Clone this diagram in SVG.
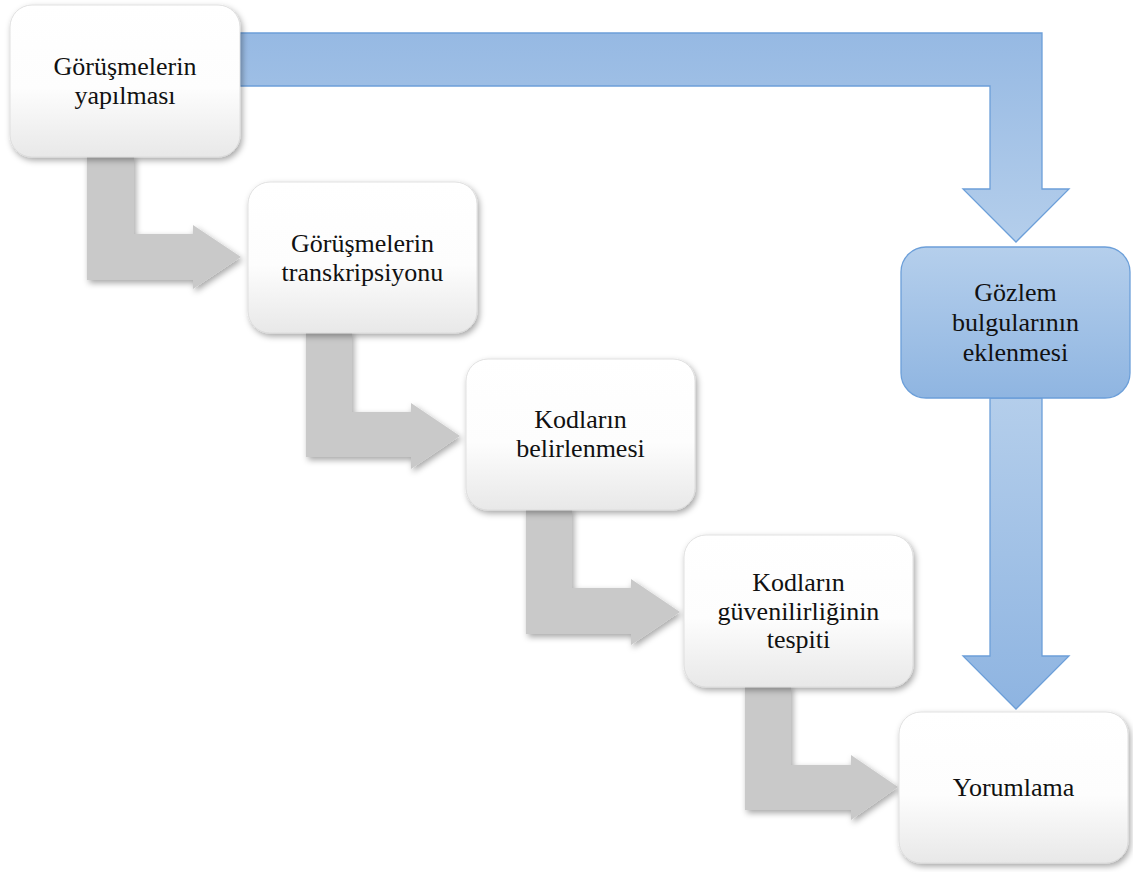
<svg xmlns="http://www.w3.org/2000/svg" width="1133" height="872" viewBox="0 0 1133 872">
<defs>
<style>
.box{fill:url(#wg);stroke:#d9d9d9;stroke-width:0.8;filter:url(#sh)}
.gar{fill:#c9c9c9;filter:url(#sh)}
.lbl{font-family:"Liberation Serif","Times New Roman",serif;font-size:26px;fill:#111;text-anchor:middle}
.blue{stroke:#6c9fd9;stroke-width:1.3}
</style>
<linearGradient id="wg" x1="0" y1="0" x2="0" y2="1">
<stop offset="0" stop-color="#ffffff"/>
<stop offset="0.55" stop-color="#fdfdfd"/>
<stop offset="1" stop-color="#e8e8e8"/>
</linearGradient>
<linearGradient id="bg1" gradientUnits="userSpaceOnUse" x1="0" y1="33" x2="0" y2="242">
<stop offset="0" stop-color="#96b9e3"/>
<stop offset="1" stop-color="#b4ceeb"/>
</linearGradient>
<linearGradient id="bg2" gradientUnits="userSpaceOnUse" x1="0" y1="398" x2="0" y2="709">
<stop offset="0" stop-color="#b4ceeb"/>
<stop offset="1" stop-color="#8eb4e1"/>
</linearGradient>
<linearGradient id="bbox" x1="0" y1="0" x2="0" y2="1">
<stop offset="0" stop-color="#b5cfec"/>
<stop offset="1" stop-color="#8fb5e1"/>
</linearGradient>
<filter id="sh" x="-10%" y="-10%" width="125%" height="130%">
<feDropShadow dx="2" dy="3" stdDeviation="3" flood-color="#000" flood-opacity="0.35"/>
</filter>
</defs>
<rect width="1133" height="872" fill="#fff"/>
<g id="connectors">
<path class="blue" fill="url(#bg1)" d="M240,33 L1042,33 L1042,189 L1069,189 L1016,242 L963,189 L990,189 L990,86 L240,86 Z"/>
<path class="blue" fill="url(#bg2)" d="M990,398 L1042,398 L1042,656 L1069,656 L1016,709 L963,656 L990,656 Z"/>
<path class="gar" d="M87,155 L134,155 L134,234 L193,234 L193,225 L241,257 L193,289 L193,280 L87,280 Z"/>
<path class="gar" d="M306,331 L352,331 L352,412 L411,412 L411,403 L460,436 L411,469 L411,457 L306,457 Z"/>
<path class="gar" d="M526,508 L572,508 L572,588 L631,588 L631,579 L680,612 L631,645 L631,634 L526,634 Z"/>
<path class="gar" d="M745,685 L791,685 L791,765 L851,765 L851,755 L898,787 L851,820 L851,810 L745,810 Z"/>
</g>
<g id="n1">
<rect class="box" x="10" y="5" width="230" height="152" rx="22"/>
<text class="lbl" x="125" y="75">Görüşmelerin</text>
<text class="lbl" x="125" y="104">yapılması</text>
</g>
<g id="n2">
<rect class="box" x="248" y="182" width="229" height="151" rx="22"/>
<text class="lbl" x="362.5" y="252">Görüşmelerin</text>
<text class="lbl" x="362.5" y="281">transkripsiyonu</text>
</g>
<g id="n3">
<rect class="box" x="466" y="359" width="229" height="151" rx="22"/>
<text class="lbl" x="580.5" y="428">Kodların</text>
<text class="lbl" x="580.5" y="457">belirlenmesi</text>
</g>
<g id="n4">
<rect class="box" x="684" y="535" width="229" height="152" rx="22"/>
<text class="lbl" x="798.5" y="591">Kodların</text>
<text class="lbl" x="798.5" y="620">güvenilirliğinin</text>
<text class="lbl" x="798.5" y="648">tespiti</text>
</g>
<g id="n5">
<rect x="901" y="247" width="229" height="151" rx="25" fill="url(#bbox)" stroke="#6c9fd9" stroke-width="1.3"/>
<text class="lbl" x="1015.5" y="301">Gözlem</text>
<text class="lbl" x="1015.5" y="331">bulgularının</text>
<text class="lbl" x="1015.5" y="361">eklenmesi</text>
</g>
<g id="n6">
<rect class="box" x="899" y="712" width="229" height="151" rx="22"/>
<text class="lbl" x="1013.5" y="796">Yorumlama</text>
</g>
</svg>
